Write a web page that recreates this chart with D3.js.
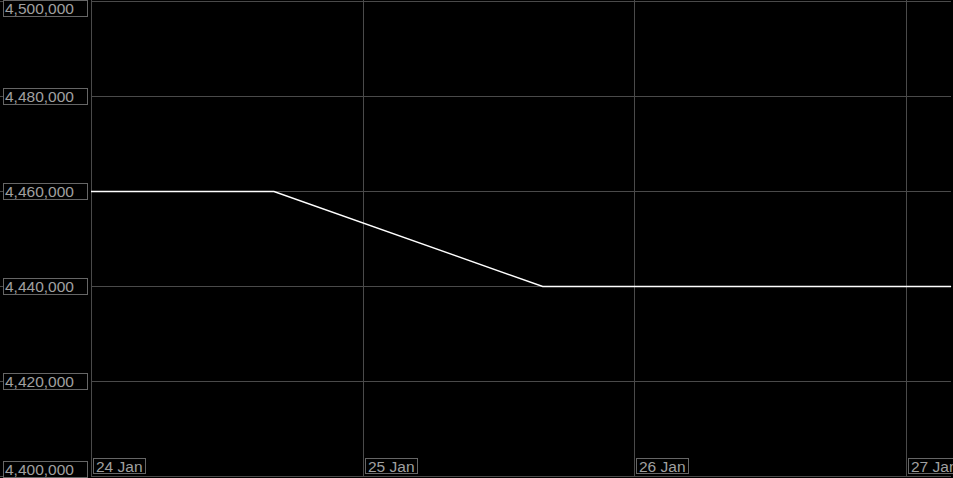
<!DOCTYPE html>
<html>
<head>
<meta charset="utf-8">
<script src="https://cdn.jsdelivr.net/npm/d3@7.9.0/dist/d3.min.js"></script>
<style>
  html, body { margin: 0; padding: 0; background: #000; }
  svg { display: block; }
  text { font-family: "Liberation Sans", Arial, sans-serif; font-size: 15.5px; fill: #a0a0a0; }
</style>
</head>
<body>
<div id="chart"></div>
<script>
// series (time, value)
const times = [
  "2024-01-24T00:00", "2024-01-24T16:10", "2024-01-25T15:55",
  "2024-01-26T16:00", "2024-01-27T04:00"
];
const values = [4460000, 4460000, 4440000, 4440000, 4440000];
const yTicks = [4400000, 4420000, 4440000, 4460000, 4480000, 4500000];
const xTicks = ["2024-01-24T00:00", "2024-01-25T00:00", "2024-01-26T00:00", "2024-01-27T00:00"];

const width = 953;
const height = 478;
const margin = { top: 1, right: 0, bottom: 2, left: 91 };

const data = times.map((t, i) => ({ date: new Date(t), value: values[i] }));

const svg = d3.select("#chart").append("svg")
  .attr("width", width)
  .attr("height", height);

const x = d3.scaleTime()
  .domain([new Date(xTicks[0]), new Date("2024-01-27T04:10")])
  .range([margin.left, width - margin.right]);
const y = d3.scaleLinear()
  .domain([4400000, 4500000])
  .range([height - margin.bottom, margin.top]);

const grid = svg.append("g").attr("stroke", "#4a4a4a").attr("stroke-width", 1);
grid.selectAll("line.h")
  .data(yTicks)
  .join("line")
  .attr("class", "h")
  .attr("x1", margin.left)
  .attr("x2", width - 2)
  .attr("y1", (d) => Math.round(y(d)) + 0.5)
  .attr("y2", (d) => Math.round(y(d)) + 0.5);
grid.selectAll("line.v")
  .data(xTicks)
  .join("line")
  .attr("class", "v")
  .attr("x1", (d) => Math.round(x(new Date(d))) + 0.5)
  .attr("x2", (d) => Math.round(x(new Date(d))) + 0.5)
  .attr("y1", 0)
  .attr("y2", height - margin.bottom);

// small ticks left of the value labels
grid.selectAll("line.t")
  .data(yTicks)
  .join("line")
  .attr("class", "t")
  .attr("x1", 0)
  .attr("x2", 3)
  .attr("y1", (d) => Math.round(y(d)) + 0.5)
  .attr("y2", (d) => Math.round(y(d)) + 0.5);

const line = d3.line()
  .x((d) => x(d.date))
  .y((d) => Math.round(y(d.value)) + 0.5);

svg.append("path")
  .datum(data)
  .attr("fill", "none")
  .attr("stroke", "#fff")
  .attr("stroke-width", 1.4)
  .attr("d", line);

const fmt = d3.format(",");
const yLab = svg.append("g");
yTicks.forEach((v) => {
  const cy = Math.max(8, Math.min(height - 9, Math.round(y(v))));
  const g = yLab.append("g").attr("transform", `translate(3.5, ${cy - 8 + 0.5})`);
  g.append("rect").attr("width", 84).attr("height", 16)
    .attr("fill", "#000").attr("stroke", "#666");
  g.append("text").attr("x", 1.5).attr("y", 13.5).text(fmt(v));
});

const xLab = svg.append("g");
const dayFmt = d3.timeFormat("%d %b");
xTicks.forEach((t) => {
  const px = Math.round(x(new Date(t)));
  const g = xLab.append("g").attr("transform", `translate(${px + 2.5}, 458.5)`);
  g.append("rect").attr("width", 52).attr("height", 15)
    .attr("fill", "#000").attr("stroke", "#666");
  g.append("text").attr("x", 2.5).attr("y", 13).text(dayFmt(new Date(t)));
});
</script>
</body>
</html>
